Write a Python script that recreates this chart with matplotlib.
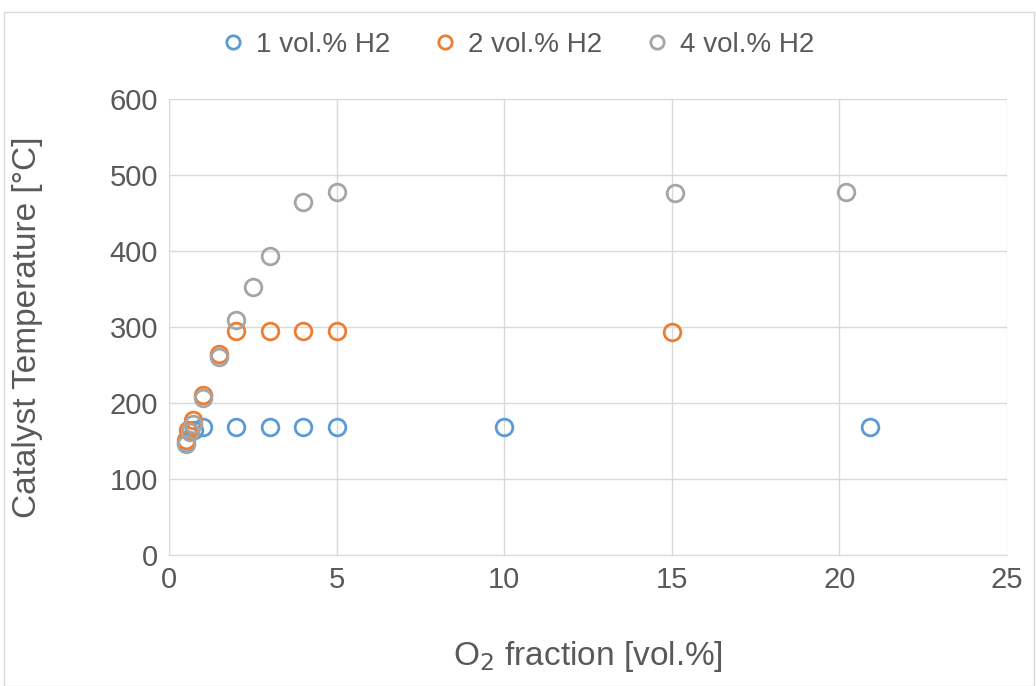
import matplotlib
matplotlib.use("Agg")
import matplotlib.pyplot as plt

plt.rcParams['font.family'] = ['Liberation Sans', 'DejaVu Sans']

x1 = [0.5, 0.75, 1, 2, 3, 4, 5, 10, 20.9]
y1 = [147, 165, 168, 168, 168, 168, 168, 168, 168]
x2 = [0.5, 0.57, 0.72, 1.0, 1.5, 2, 3, 4, 5, 15]
y2 = [151, 164, 177, 211, 265, 295, 295, 295, 295, 293]
x4 = [0.5, 0.62, 0.72, 1.0, 1.5, 2, 2.5, 3, 4, 5, 15.1, 20.2]
y4 = [146, 162, 173, 206, 260, 309, 352, 393, 465, 478, 476, 478]

labels = ["1 vol.% H2", "2 vol.% H2", "4 vol.% H2"]
colors = ["#5B9BD5", "#ED7D31", "#A5A5A5"]
xticks = [0, 5, 10, 15, 20, 25]
yticks = [0, 100, 200, 300, 400, 500, 600]

fig = plt.figure(figsize=(10.36, 6.86), dpi=100)
ax = fig.add_axes([169/1036, 1 - 555/686, (1007 - 169)/1036, (555 - 99)/686])

for xs, ys, c, lab in zip([x1, x2, x4], [y1, y2, y4], colors, labels):
    ax.plot(xs, ys, linestyle='none', marker='o', markersize=12, markerfacecolor='none',
            markeredgecolor=c, markeredgewidth=2, label=lab, zorder=3)

ax.set_xlim(0, 25)
ax.set_ylim(0, 600)
ax.set_xticks(xticks)
ax.set_yticks(yticks)
ax.grid(True, color="#D9D9D9", linewidth=1)
ax.set_axisbelow(True)
for s in ['top', 'right', 'left']:
    ax.spines[s].set_visible(False)
ax.spines['bottom'].set_color("#D9D9D9")
ax.tick_params(length=0, labelsize=21, labelcolor="#595959", pad=8)
ax.set_xlabel("O$_2$ fraction [vol.%]", fontsize=24, color="#595959")
ax.set_ylabel("Catalyst Temperature [°C]", fontsize=24, color="#595959")
ax.yaxis.set_label_coords(-0.150, 0.5)
ax.xaxis.set_label_coords(0.5, -0.184)

leg = fig.legend(loc='center', bbox_to_anchor=(0.5, 1 - 45/686), ncol=3, frameon=False,
                 fontsize=20, handlelength=0.8, handletextpad=0.4, columnspacing=1.6,
                 markerscale=0.8)
for t in leg.get_texts():
    t.set_color("#595959")

fig.patches.append(plt.Rectangle((4/1036, 0), 1030/1036, 1 - 12/686, transform=fig.transFigure,
                                 fill=False, edgecolor="#D9D9D9", linewidth=1))
fig.savefig("out.png", dpi=100)
